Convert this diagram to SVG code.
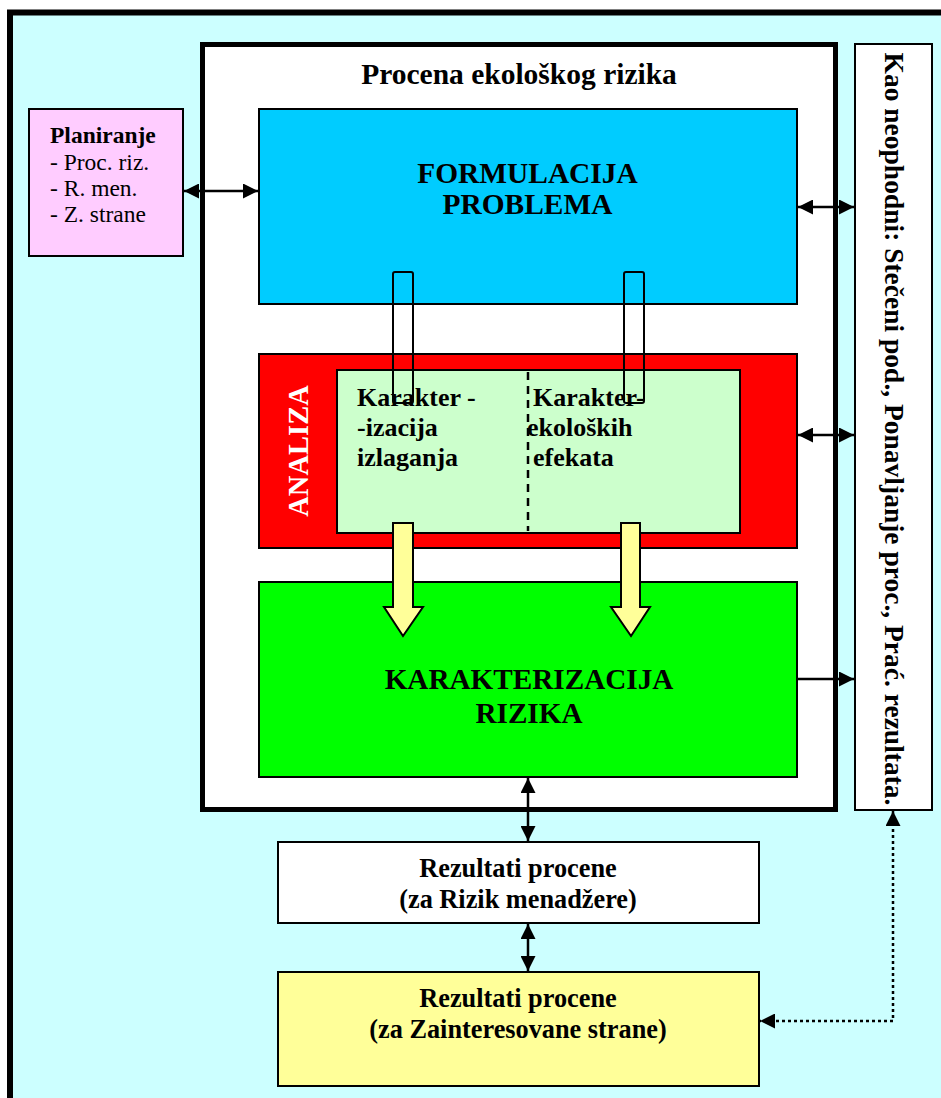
<svg xmlns="http://www.w3.org/2000/svg" width="941" height="1098" viewBox="0 0 941 1098">
<style>
.t{font-family:"Liberation Serif","Times New Roman",serif;fill:#000}
.b{font-weight:bold}
.box{stroke:#000;stroke-width:2}
.ln{stroke:#000;stroke-width:2.5;fill:none}
</style>
<defs>
<marker id="ah" markerUnits="userSpaceOnUse" markerWidth="16" markerHeight="15" refX="15" refY="7.5" orient="auto-start-reverse" viewBox="0 0 16 15">
<path d="M0,0 L15,7.5 L0,15 z" fill="#000"/>
</marker>
</defs>
<rect x="0" y="0" width="941" height="1098" fill="#fff"/>
<rect id="frame" x="10" y="12.5" width="1000" height="1200" fill="#CCFFFF" stroke="#000" stroke-width="6"/>
<g id="procena">
<rect x="202.5" y="44.5" width="633" height="765" fill="#fff" stroke="#000" stroke-width="5"/>
<text class="t b" x="519" y="84" font-size="29.5" text-anchor="middle">Procena ekološkog rizika</text>
</g>
<g id="planiranje">
<rect class="box" x="29" y="109" width="154" height="147" fill="#FFCCFF" stroke-width="1.5"/>
<text class="t b" x="50" y="143" font-size="23.5">Planiranje</text>
<text class="t" x="50" y="170" font-size="23.5">- Proc. riz.</text>
<text class="t" x="50" y="196" font-size="23.5">- R. men.</text>
<text class="t" x="50" y="222" font-size="23.5">- Z. strane</text>
</g>
<g id="formulacija">
<rect class="box" x="259" y="109" width="538" height="195" fill="#00CCFF" stroke-width="1.5"/>
<text class="t b" x="527.5" y="183" font-size="29.4" text-anchor="middle">FORMULACIJA</text>
<text class="t b" x="527.5" y="214" font-size="29.4" text-anchor="middle">PROBLEMA</text>
</g>
<g id="analiza">
<rect class="box" x="259" y="354" width="538" height="194" fill="#FF0000"/>
<text class="t b" transform="translate(308,451) rotate(-90)" font-size="28.5" text-anchor="middle" style="fill:#fff">ANALIZA</text>
<rect class="box" x="337" y="370" width="403" height="163" fill="#CCFFCC"/>
<line x1="528" y1="372" x2="528" y2="531" stroke="#000" stroke-width="2.5" stroke-dasharray="8,6"/>
<text class="t b" x="357" y="406" font-size="26">Karakter -</text>
<text class="t b" x="357" y="436" font-size="26">-izacija</text>
<text class="t b" x="357" y="466" font-size="26">izlaganja</text>
<text class="t b" x="533" y="406" font-size="26">Karakter-</text>
<text class="t b" x="527" y="436" font-size="26">ekoloških</text>
<text class="t b" x="533" y="466" font-size="26">efekata</text>
</g>
<g id="karakterizacija">
<rect class="box" x="259" y="582" width="538" height="195" fill="#00FF00" stroke-width="1.5"/>
<text class="t b" x="529" y="689" font-size="29.2" text-anchor="middle">KARAKTERIZACIJA</text>
<text class="t b" x="529" y="723" font-size="29.2" text-anchor="middle">RIZIKA</text>
</g>
<g id="side">
<rect class="box" x="855" y="44" width="77" height="766" fill="#fff"/>
<text class="t b" transform="translate(885,429) rotate(90)" font-size="27.5" text-anchor="middle">Kao neophodni: Stečeni pod., Ponavljanje proc., Prać. rezultata.</text>
</g>
<g id="rez1">
<rect class="box" x="278" y="842" width="481" height="81" fill="#fff"/>
<text class="t b" x="518" y="877" font-size="26.3" text-anchor="middle">Rezultati procene</text>
<text class="t b" x="518" y="908" font-size="26.3" text-anchor="middle">(za Rizik menadžere)</text>
</g>
<g id="rez2">
<rect class="box" x="278" y="972" width="481" height="114" fill="#FFFF99" stroke-width="2.5"/>
<text class="t b" x="518" y="1007" font-size="26.3" text-anchor="middle">Rezultati procene</text>
<text class="t b" x="518" y="1038" font-size="26.3" text-anchor="middle">(za Zainteresovane strane)</text>
</g>
<g id="connectors">
<rect x="393" y="272" width="20" height="131" rx="2" fill="none" stroke="#000" stroke-width="2"/>
<rect x="624" y="272" width="20" height="131" rx="2" fill="none" stroke="#000" stroke-width="2"/>
<path d="M393,523 H413 V607 H423 L403,636 L384,607 H393 Z" fill="#FFFF99" stroke="#000" stroke-width="2"/>
<path d="M621,523 H640 V607 H650 L631,636 L611,607 H621 Z" fill="#FFFF99" stroke="#000" stroke-width="2"/>
<line class="ln" x1="184" y1="191" x2="258" y2="191" marker-start="url(#ah)" marker-end="url(#ah)"/>
<line class="ln" x1="798" y1="207" x2="854" y2="207" marker-start="url(#ah)" marker-end="url(#ah)"/>
<line class="ln" x1="798" y1="435" x2="854" y2="435" marker-start="url(#ah)" marker-end="url(#ah)"/>
<line class="ln" x1="797" y1="679" x2="854" y2="679" marker-end="url(#ah)"/>
<line class="ln" x1="528" y1="778" x2="528" y2="841" marker-start="url(#ah)" marker-end="url(#ah)"/>
<line class="ln" x1="528" y1="924" x2="528" y2="971" marker-start="url(#ah)" marker-end="url(#ah)"/>
<polyline class="ln" points="893,811 893,1021 760,1021" stroke-dasharray="3,3" marker-start="url(#ah)" marker-end="url(#ah)"/>
</g>
</svg>
